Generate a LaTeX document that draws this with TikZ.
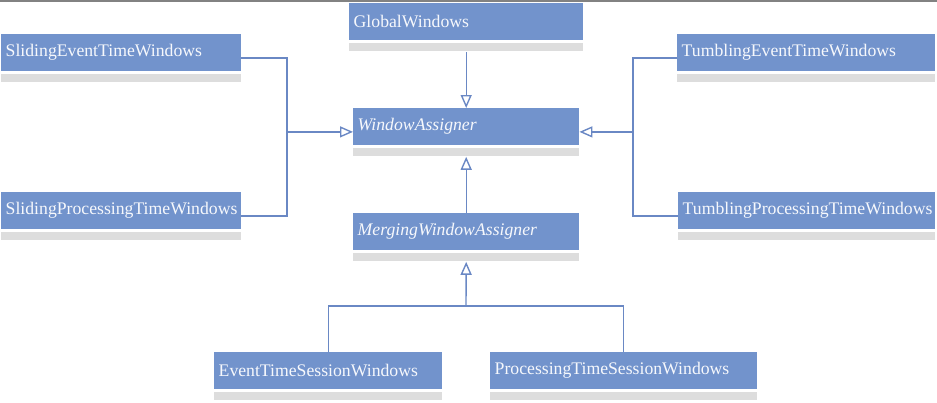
\documentclass[tikz,border=0pt]{standalone}
\usepackage{fontspec}
\setmainfont{Liberation Serif}
\usetikzlibrary{arrows.meta,positioning,calc}
\definecolor{boxblue}{RGB}{114,147,204}
\definecolor{lineblue}{RGB}{106,136,196}
\definecolor{stripgrey}{RGB}{221,221,221}
\definecolor{topgrey}{RGB}{130,130,130}
\definecolor{txt}{RGB}{246,248,252}
\tikzset{
  cls/.style={fill=boxblue, text=txt, anchor=north west, inner xsep=4.5pt, inner ysep=0pt,
    minimum height=37pt, align=left, font=\fontsize{17.7}{20}\selectfont},
  conn/.style={draw=lineblue, line width=1.4pt},
  inh/.style={conn, -{Triangle[open, length=13pt, width=11pt, line width=1.4pt]}}
}
\begin{document}
\begin{tikzpicture}[x=1pt,y=-1pt]
\useasboundingbox (0,0) rectangle (937,402);
\draw[topgrey, line width=2pt] (0,1) -- (937,1);

% classes
\node[cls, text width=225pt] (gw) at (349,3) {GlobalWindows};
\node[fill=stripgrey, inner sep=0pt, minimum height=8pt, minimum width=234pt, below=2pt of gw.south, anchor=north] (gwb) {};

\node[cls, text width=231pt] (se) at (1,34) {SlidingEventTimeWindows};
\node[fill=stripgrey, inner sep=0pt, minimum height=8pt, minimum width=240pt, below=2pt of se.south, anchor=north] (seb) {};

\node[cls, text width=249pt] (te) at (677,34) {TumblingEventTimeWindows};
\node[fill=stripgrey, inner sep=0pt, minimum height=8pt, minimum width=258pt, below=2pt of te.south, anchor=north] (teb) {};

\node[cls, text width=217pt] (wa) at (353,108) {\itshape WindowAssigner};
\node[fill=stripgrey, inner sep=0pt, minimum height=8pt, minimum width=226pt, below=2pt of wa.south, anchor=north] (wab) {};

\node[cls, text width=231pt] (sp) at (1,192) {SlidingProcessingTimeWindows};
\node[fill=stripgrey, inner sep=0pt, minimum height=8pt, minimum width=240pt, below=2pt of sp.south, anchor=north] (spb) {};

\node[cls, text width=248pt] (tp) at (678,192) {TumblingProcessingTimeWindows};
\node[fill=stripgrey, inner sep=0pt, minimum height=8pt, minimum width=257pt, below=2pt of tp.south, anchor=north] (tpb) {};

\node[cls, text width=217pt] (mw) at (353,213) {\itshape MergingWindowAssigner};
\node[fill=stripgrey, inner sep=0pt, minimum height=8pt, minimum width=226pt, below=2pt of mw.south, anchor=north] (mwb) {};

\node[cls, text width=219pt] (es) at (214,352) {EventTimeSessionWindows};
\node[fill=stripgrey, inner sep=0pt, minimum height=8pt, minimum width=228pt, below=2pt of es.south, anchor=north] (esb) {};

\node[cls, text width=258pt] (ps) at (490,352) {ProcessingTimeSessionWindows};
\node[fill=stripgrey, inner sep=0pt, minimum height=8pt, minimum width=267pt, below=2pt of ps.south, anchor=north] (psb) {};

% mid points of the whole class shapes
\coordinate (se-e) at ($(se.north east)!.5!(seb.south east)$);
\coordinate (sp-e) at ($(sp.north east)!.5!(spb.south east)$);
\coordinate (te-w) at ($(te.north west)!.5!(teb.south west)$);
\coordinate (tp-w) at ($(tp.north west)!.5!(tpb.south west)$);
\coordinate (wa-w) at ($(wa.north west)!.5!(wab.south west)$);
\coordinate (wa-e) at ($(wa.north east)!.5!(wab.south east)$);
\coordinate (jl) at (287,0 |- wa-w);
\coordinate (jr) at (633,0 |- wa-e);
\coordinate (jb) at (466,306);

% connectors
\draw[inh] ([yshift=-1.5pt]gwb.south) -- (wa.north);
\draw[conn] (se-e) -| (jl);
\draw[conn] (sp-e) -| (jl);
\draw[inh] (jl) -- (wa-w);
\draw[conn] (te-w) -| (jr);
\draw[conn] (tp-w) -| (jr);
\draw[inh] (jr) -- (wa-e);
\draw[inh] (mw.north) -- ([yshift=-1pt]wab.south);
\draw[conn] (es.north) |- (jb) -| (ps.north);
\draw[inh] (jb) -- ([yshift=-1pt]mwb.south);
\end{tikzpicture}
\end{document}
